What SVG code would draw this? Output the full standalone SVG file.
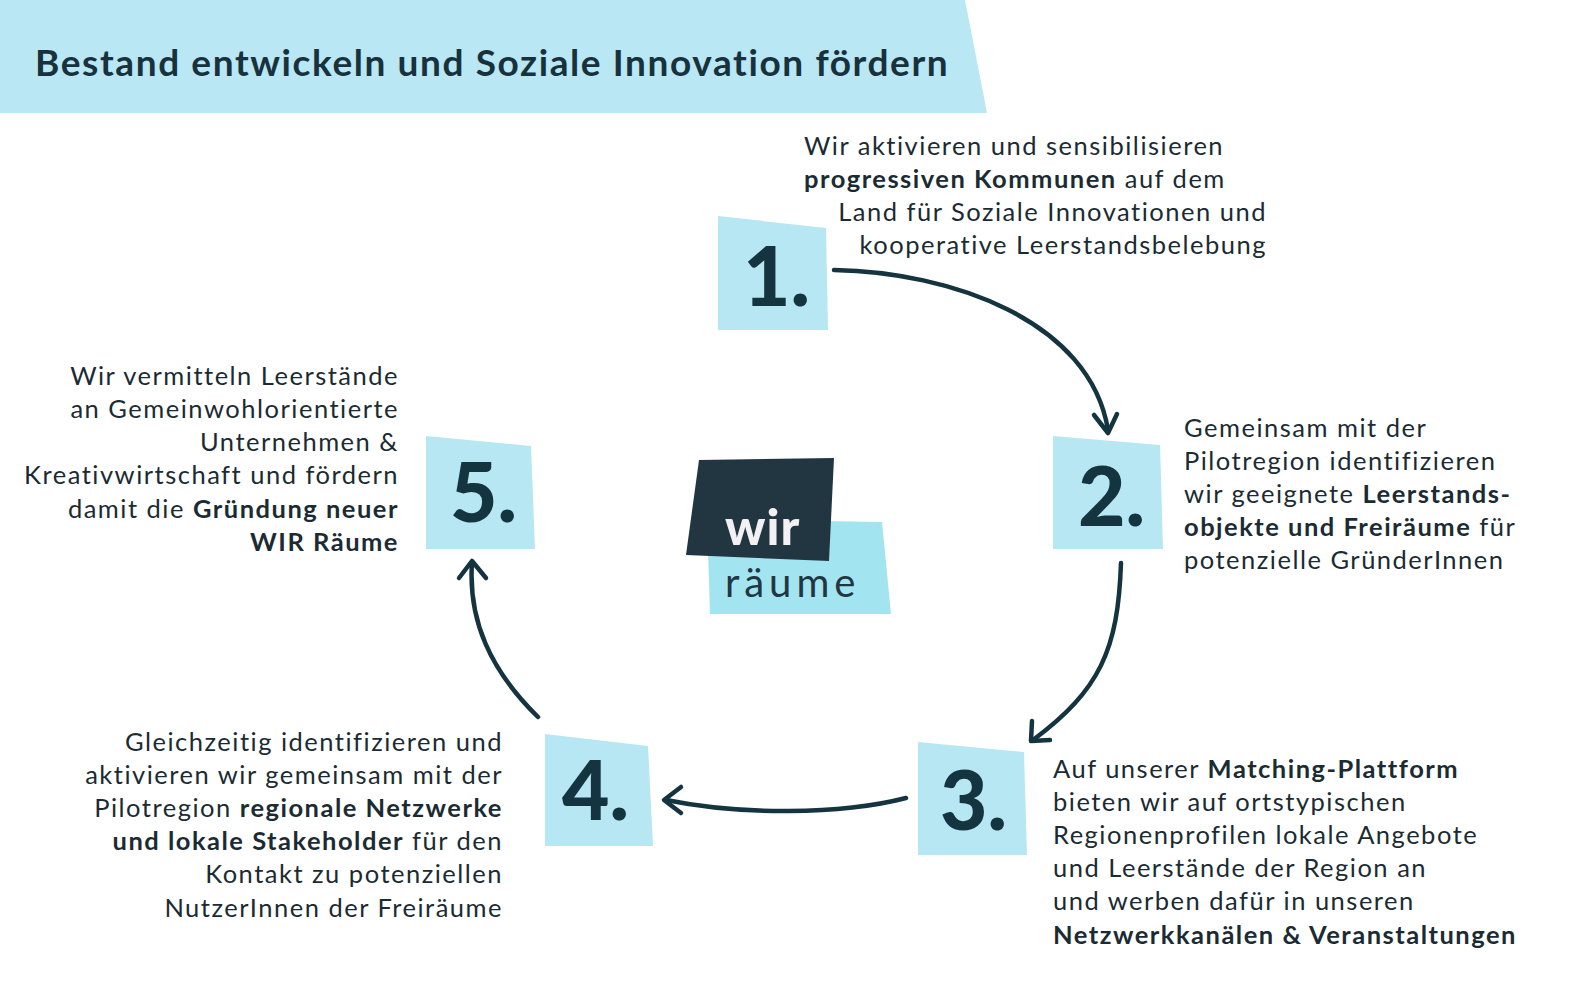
<svg xmlns="http://www.w3.org/2000/svg" width="1575" height="998" viewBox="0 0 1575 998">
<style>
.t{font-family:Lato,"Noto Sans",sans-serif;font-size:25.5px;letter-spacing:1.5px;fill:#1b2b33}
.b{font-weight:bold}
.num{font-family:Lato,"Noto Sans",sans-serif;font-weight:900;font-size:82px;fill:#143440}
.box{fill:#b7e7f3}
.c{fill:none;stroke:#143440;stroke-width:4.5;stroke-linecap:round}
.ah{fill:none;stroke:#143440;stroke-width:4.5;stroke-linecap:round;stroke-linejoin:round}
</style>
<rect width="1575" height="998" fill="#fff"/>
<g id="title">
<polygon points="0,0 965,0 987,113 0,113" fill="#b9e7f3"/>
<text x="35" y="76" font-family="Lato,'Noto Sans',sans-serif" font-weight="bold" font-size="37" letter-spacing="1.6" fill="#17323c">Bestand entwickeln und Soziale Innovation fördern</text>
</g>
<g id="logo">
<polygon points="707,519 882,522 891,614 710,614" fill="#a2e4f0"/>
<polygon points="699,460 834,458 829,561 686,555" fill="#223642"/>
<text x="725" y="545" font-family="Lato,'Noto Sans',sans-serif" font-weight="900" font-size="50" letter-spacing="1" fill="#f2f0f2">wir</text>
<text x="725" y="597" font-family="Lato,'Noto Sans',sans-serif" font-size="40" letter-spacing="5" fill="#223642">räume</text>
</g>
<g id="n1">
<polygon class="box" points="718,216 826,228 828,330 718,330"/>
<text class="num" x="743" y="306">1.</text>
<text class="t" x="804" y="155">Wir aktivieren und sensibilisieren</text>
<text class="t" x="804" y="188"><tspan class="b">progressiven Kommunen</tspan> auf dem</text>
<text class="t" x="1267" y="221" text-anchor="end">Land für Soziale Innovationen und</text>
<text class="t" x="1267" y="254" text-anchor="end">kooperative Leerstandsbelebung</text>
</g>
<g id="n2">
<polygon class="box" points="1053,436 1160,445 1163,549 1053,549"/>
<text class="num" x="1078" y="526">2.</text>
<text class="t" x="1184" y="437">Gemeinsam mit der</text>
<text class="t" x="1184" y="470">Pilotregion identifizieren</text>
<text class="t" x="1184" y="503">wir geeignete <tspan class="b">Leerstands-</tspan></text>
<text class="t" x="1184" y="536"><tspan class="b">objekte und Freiräume</tspan> für</text>
<text class="t" x="1184" y="569">potenzielle GründerInnen</text>
</g>
<g id="n3">
<polygon class="box" points="918,742 1024,752 1027,855 918,855"/>
<text class="num" x="940" y="830">3.</text>
<text class="t" x="1053" y="778">Auf unserer <tspan class="b">Matching-Plattform</tspan></text>
<text class="t" x="1053" y="811">bieten wir auf ortstypischen</text>
<text class="t" x="1053" y="844">Regionenprofilen lokale Angebote</text>
<text class="t" x="1053" y="877">und Leerstände der Region an</text>
<text class="t" x="1053" y="910">und werben dafür in unseren</text>
<text class="t b" x="1053" y="944">Netzwerkkanälen &amp; Veranstaltungen</text>
</g>
<g id="n4">
<polygon class="box" points="545,734 648,746 653,846 545,846"/>
<text class="num" x="562" y="820">4.</text>
<text class="t" x="503" y="751" text-anchor="end">Gleichzeitig identifizieren und</text>
<text class="t" x="503" y="784" text-anchor="end">aktivieren wir gemeinsam mit der</text>
<text class="t" x="503" y="817" text-anchor="end">Pilotregion <tspan class="b">regionale Netzwerke</tspan></text>
<text class="t" x="503" y="850" text-anchor="end"><tspan class="b">und lokale Stakeholder</tspan> für den</text>
<text class="t" x="503" y="883" text-anchor="end">Kontakt zu potenziellen</text>
<text class="t" x="503" y="917" text-anchor="end">NutzerInnen der Freiräume</text>
</g>
<g id="n5">
<polygon class="box" points="426,436 531,446 535,549 426,549"/>
<text class="num" x="450" y="522">5.</text>
<text class="t" x="399" y="385" text-anchor="end">Wir vermitteln Leerstände</text>
<text class="t" x="399" y="418" text-anchor="end">an Gemeinwohlorientierte</text>
<text class="t" x="399" y="451" text-anchor="end">Unternehmen &amp;</text>
<text class="t" x="399" y="484" text-anchor="end">Kreativwirtschaft und fördern</text>
<text class="t" x="399" y="518" text-anchor="end">damit die <tspan class="b">Gründung neuer</tspan></text>
<text class="t b" x="399" y="551" text-anchor="end">WIR Räume</text>
</g>
<g id="connectors">
<path class="c" d="M834,270 C950,272 1090,320 1108,430"/>
<path class="ah" d="M1094,415 L1108,433 L1117,414"/>
<path class="c" d="M1121,563 C1118,650 1100,690 1033,740"/>
<path class="ah" d="M1032,721 L1031,741 L1050,740"/>
<path class="c" d="M906,798 C840,815 740,815 666,800"/>
<path class="ah" d="M681,787 L664,800 L681,813"/>
<path class="c" d="M538,717 C490,670 468,620 472,562"/>
<path class="ah" d="M459,578 L472,561 L486,578"/>
</g>
</svg>
